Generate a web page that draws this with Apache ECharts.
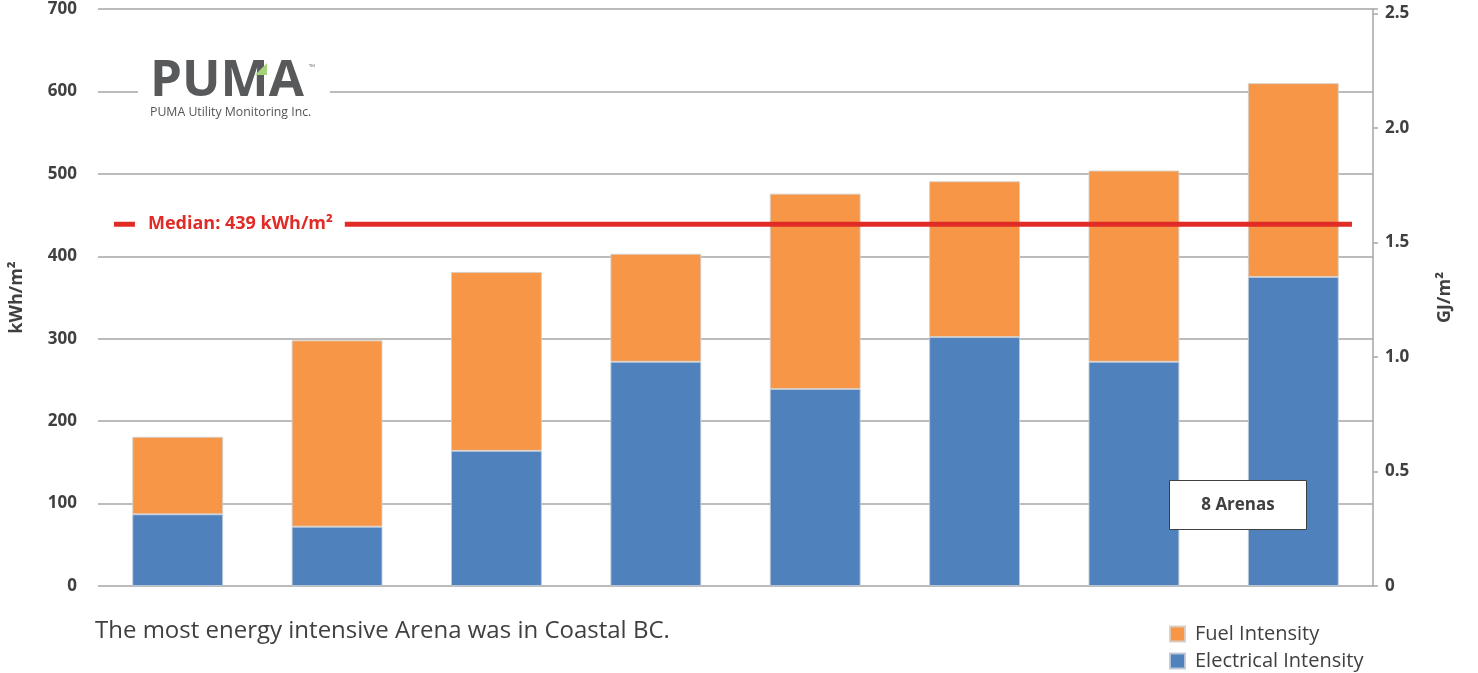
<!DOCTYPE html>
<html>
<head>
<meta charset="utf-8">
<script src="https://cdn.jsdelivr.net/npm/echarts@6/dist/echarts.min.js"></script>
<style>
  html, body { margin: 0; padding: 0; background: #ffffff; }
  #chart { width: 1478px; height: 673px; }
</style>
</head>
<body>
<div id="chart"></div>
<script>
// Energy use intensity of eight arenas, split by source (kWh/m²)
const arenas = ['Arena 1', 'Arena 2', 'Arena 3', 'Arena 4', 'Arena 5', 'Arena 6', 'Arena 7', 'Arena 8'];
const electricalIntensity = [87, 72, 164, 272, 239, 302, 272, 375];
const fuelIntensity = [94, 226, 217, 131, 237, 189, 232, 235];
const medianIntensity = 439;
const leftTicks = { min: 0, max: 700, interval: 100 };
const gjTicks = { min: 0, interval: 0.5 };
const KWH_PER_GJ = 277.78;

// Styling
const FONT = '"Open Sans", "DejaVu Sans", sans-serif';
const TEXT = '#404040';
const GRID_GRAY = '#a6a6a6';
const ORANGE = '#f79646';
const BLUE = '#4f81bd';
const RED = '#e02b27';
// Horizontal span of the median rule, as a fraction of the plot width
const MEDIAN_SPAN = [0.0125, 0.9835];

const legendText = { fontFamily: FONT, fontSize: 20, color: TEXT, padding: [0, 0, 0, 5] };
function legendFor(name, top) {
  return {
    orient: 'vertical', left: 1164, top: top,
    itemWidth: 15, itemHeight: 15, icon: 'rect',
    data: [name], textStyle: legendText
  };
}

const chart = echarts.init(document.getElementById('chart'));

const option = {
  backgroundColor: '#ffffff',
  animation: false,
  grid: { left: 96, right: 105, top: 9, bottom: 87, containLabel: false },
  legend: [legendFor('Fuel Intensity', 619), legendFor('Electrical Intensity', 646)],
  xAxis: [
    {
      type: 'category',
      data: arenas,
      axisLine: { show: false },
      axisTick: { show: false },
      axisLabel: { show: false },
      splitLine: { show: false }
    },
    { type: 'value', min: 0, max: 1, show: false }
  ],
  yAxis: [
    {
      type: 'value',
      min: leftTicks.min,
      max: leftTicks.max,
      interval: leftTicks.interval,
      name: 'kWh/m²',
      nameLocation: 'middle',
      nameRotate: 90,
      nameGap: 72,
      nameTextStyle: { fontFamily: FONT, fontSize: 18, fontWeight: 'bold', color: TEXT },
      axisLine: { show: false },
      axisTick: { show: false },
      axisLabel: { margin: 21, padding: [6, 0, 0, 0], fontFamily: FONT, fontSize: 17, fontWeight: 'bold', color: TEXT },
      splitLine: { lineStyle: { color: GRID_GRAY, width: 1.5 } }
    },
    {
      type: 'value',
      position: 'right',
      min: gjTicks.min,
      max: leftTicks.max / KWH_PER_GJ,
      interval: gjTicks.interval,
      name: 'GJ/m²',
      nameLocation: 'middle',
      nameRotate: 90,
      nameGap: 63,
      nameTextStyle: { fontFamily: FONT, fontSize: 18, fontWeight: 'bold', color: TEXT },
      axisLine: { show: true, lineStyle: { color: GRID_GRAY, width: 1.5 } },
      axisTick: { show: true, length: 5, lineStyle: { color: GRID_GRAY, width: 1.5 } },
      axisLabel: {
        margin: 12,
        padding: [6, 0, 0, 0],
        fontFamily: FONT, fontSize: 17, fontWeight: 'bold', color: TEXT,
        formatter: function (v) {
          const steps = v / gjTicks.interval;
          if (Math.abs(steps - Math.round(steps)) > 1e-6) return '';
          return v === 0 ? '0' : v.toFixed(1);
        }
      },
      splitLine: { show: false }
    }
  ],
  series: [
    {
      name: 'Electrical Intensity',
      type: 'bar',
      stack: 'eui',
      barWidth: '57%',
      data: electricalIntensity,
      itemStyle: { color: BLUE, borderColor: 'rgba(190,200,215,0.9)', borderWidth: 1 }
    },
    {
      name: 'Fuel Intensity',
      type: 'bar',
      stack: 'eui',
      barWidth: '57%',
      data: fuelIntensity,
      itemStyle: { color: ORANGE, borderColor: 'rgba(215,205,195,0.9)', borderWidth: 1 }
    },
    {
      name: 'Median',
      type: 'line',
      xAxisIndex: 1,
      yAxisIndex: 0,
      symbol: 'circle',
      symbolSize: 0,
      lineStyle: { color: RED, width: 5 },
      z: 5,
      data: [
        {
          value: [MEDIAN_SPAN[0], medianIntensity],
          label: {
            show: true,
            position: 'right',
            distance: 21,
            formatter: 'Median: ' + medianIntensity + ' kWh/m²',
            fontFamily: FONT, fontSize: 18, fontWeight: 'bold', color: RED,
            backgroundColor: '#ffffff',
            padding: [6, 12, 6, 13]
          }
        },
        [MEDIAN_SPAN[1], medianIntensity]
      ]
    }
  ],
  graphic: [
    // Company logo block
    { type: 'rect', z: 100, shape: { x: 138, y: 58, width: 192, height: 66 }, style: { fill: '#ffffff' } },
    {
      type: 'text', z: 101, x: 150, y: 56,
      style: { text: 'PUMA', font: 'bold 51px ' + FONT, fill: '#58595b' }
    },
    {
      type: 'polygon', z: 102,
      shape: { points: [[255, 75], [267, 63], [267, 75]] },
      style: { fill: '#a6d27a' }
    },
    {
      type: 'text', z: 101, x: 309, y: 64,
      style: { text: '™', font: '8px ' + FONT, fill: '#777777' }
    },
    {
      type: 'text', z: 101, x: 150, y: 106,
      style: { text: 'PUMA Utility Monitoring Inc.', font: '12.3px ' + FONT, fill: '#555555' }
    },
    // Sample size note
    {
      type: 'rect', z: 100,
      shape: { x: 1169.5, y: 480.5, width: 137, height: 49 },
      style: { fill: '#ffffff', stroke: '#404040', lineWidth: 1 }
    },
    {
      type: 'text', z: 101, x: 1238, y: 505,
      style: { text: '8 Arenas', font: 'bold 17px ' + FONT, fill: TEXT, textAlign: 'center', textVerticalAlign: 'middle' }
    },
    // Caption
    {
      type: 'text', z: 100, x: 95, y: 619,
      style: { text: 'The most energy intensive Arena was in Coastal BC.', font: '24px ' + FONT, fill: TEXT }
    }
  ]
};

chart.setOption(option);
</script>
</body>
</html>
